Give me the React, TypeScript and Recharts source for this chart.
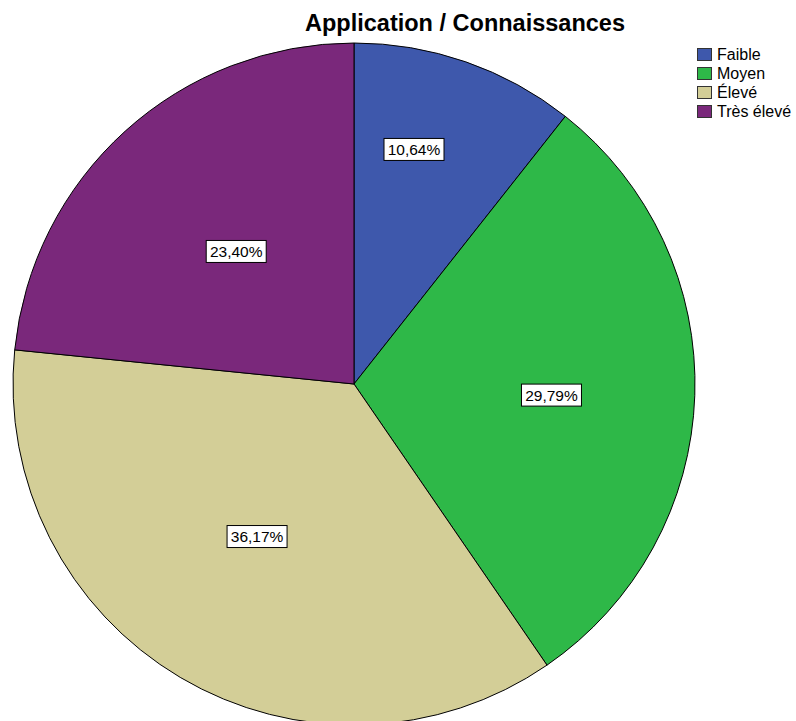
import React from "react";
import { Cell, Legend, Pie, PieChart } from "recharts";

const categories = ["Faible", "Moyen", "Élevé", "Très élevé"];
const counts = [5, 14, 17, 11];
const colors = ["#3E58AC", "#2EB848", "#D3CE97", "#7A287B"];

const data = categories.map((name, i) => ({ name, value: counts[i] }));
const RAD = Math.PI / 180;
const FONT = "'Liberation Sans', Arial, sans-serif";

// where each percentage box sits, as a share of the radius (+ small angle nudge)
const labelRadius = [0.71, 0.58, 0.53, 0.52];
const labelNudge = [4.8, -1.3, -1.8, -0.5];

const renderLabel = (props: any) => {
  const { cx, cy, midAngle, outerRadius, percent, index } = props;
  const r = outerRadius * labelRadius[index];
  const a = (midAngle + labelNudge[index]) * RAD;
  const x = cx + r * Math.cos(-a);
  const y = cy + r * Math.sin(-a);
  const txt = (percent * 100).toFixed(2).replace(".", ",") + "%";
  return (
    <g>
      <rect x={x - 30} y={y - 11} width={60} height={22} fill="#fff" stroke="#000" strokeWidth={1} />
      <text x={x} y={y} dy={5.5} textAnchor="middle" fontSize={15.5} fontFamily={FONT} fill="#000">
        {txt}
      </text>
    </g>
  );
};

const LegendBox = () => (
  <div style={{ fontFamily: FONT, fontSize: 16, color: "#000", lineHeight: "19px" }}>
    {categories.map((c, i) => (
      <div key={c} style={{ display: "flex", alignItems: "center", height: 19 }}>
        <span
          style={{
            display: "inline-block",
            width: 13,
            height: 11,
            background: colors[i],
            border: "1px solid #333",
            marginRight: 5,
          }}
        />
        {c}
      </div>
    ))}
  </div>
);

export default function App() {
  return (
    <div style={{ position: "absolute", left: 0, top: 0, width: 796, height: 721, background: "#fff", overflow: "hidden" }}>
      <div
        style={{
          position: "absolute",
          left: 265,
          width: 400,
          top: 10,
          textAlign: "center",
          fontFamily: FONT,
          fontWeight: "bold",
          fontSize: 23.5,
          color: "#000",
          whiteSpace: "nowrap",
        }}
      >
        Application / Connaissances
      </div>
      <PieChart width={796} height={721} margin={{ top: 0, right: 0, bottom: 0, left: 0 }}>
        <Pie
          data={data}
          dataKey="value"
          nameKey="name"
          cx={354}
          cy={384}
          outerRadius={341}
          startAngle={90}
          endAngle={-270}
          stroke="#000"
          strokeWidth={1}
          label={renderLabel}
          labelLine={false}
          isAnimationActive={false}
        >
          {data.map((d, i) => (
            <Cell key={d.name} fill={colors[i]} />
          ))}
        </Pie>
        <Legend
          layout="vertical"
          align="right"
          verticalAlign="top"
          content={<LegendBox />}
          wrapperStyle={{ position: "absolute", left: 697, top: 45, width: 99 }}
        />
      </PieChart>
    </div>
  );
}
